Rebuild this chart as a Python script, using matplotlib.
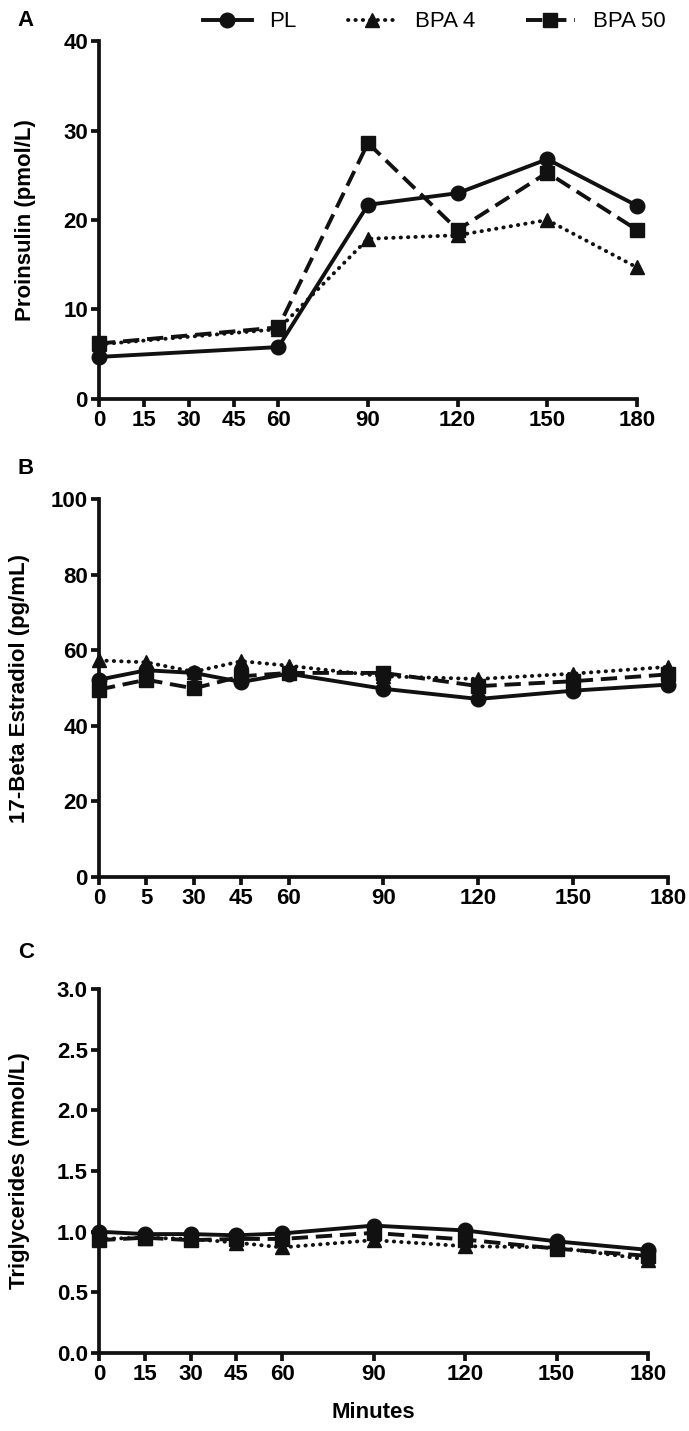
import matplotlib
matplotlib.use("Agg")
import matplotlib.pyplot as plt
from matplotlib.lines import Line2D

plt.rcParams['font.family'] = ['Liberation Sans', 'DejaVu Sans']

# panel A: proinsulin
t_a = [0, 60, 90, 120, 150, 180]
pro_pl = [4.7, 5.8, 21.7, 23.0, 26.8, 21.6]
pro_bpa4 = [6.1, 7.8, 17.9, 18.3, 20.0, 14.7]
pro_bpa50 = [6.2, 8.0, 28.6, 18.9, 25.3, 18.9]
ticks_a = [0, 15, 30, 45, 60, 90, 120, 150, 180]
ticklabels_a = ['0', '15', '30', '45', '60', '90', '120', '150', '180']

# panel B: estradiol
t_b = [0, 15, 30, 45, 60, 90, 120, 150, 180]
e2_pl = [52.2, 54.7, 54.0, 51.6, 53.8, 49.8, 47.1, 49.3, 50.9]
e2_bpa4 = [57.3, 56.8, 54.3, 57.1, 55.9, 53.1, 52.4, 53.8, 55.6]
e2_bpa50 = [49.6, 52.2, 49.9, 53.1, 54.0, 54.0, 50.5, 51.8, 53.6]
ticklabels_b = ['0', '5', '30', '45', '60', '90', '120', '150', '180']

# panel C: triglycerides
t_c = [0, 15, 30, 45, 60, 90, 120, 150, 180]
tg_pl = [1.00, 0.98, 0.98, 0.97, 0.985, 1.05, 1.01, 0.92, 0.85]
tg_bpa4 = [0.94, 0.95, 0.94, 0.91, 0.87, 0.93, 0.88, 0.87, 0.77]
tg_bpa50 = [0.93, 0.95, 0.93, 0.94, 0.94, 0.99, 0.935, 0.86, 0.80]
ticklabels_c = ['0', '15', '30', '45', '60', '90', '120', '150', '180']

LW = 2.8
INK = '#111111'
styles = {
    'PL': dict(color=INK, lw=LW, ls='-', marker='o', ms=10.5),
    'BPA 4': dict(color=INK, lw=LW, ls=(0, (0.1, 1.8)), marker='^', ms=10.5,
                  dash_capstyle='round'),
    'BPA 50': dict(color=INK, lw=LW, ls=(0, (4.2, 2.0)), marker='s', ms=9.5),
}


def style_axes(ax, ymax, yticks, yfmt, xticks, xlabels):
    for s in ['top', 'right']:
        ax.spines[s].set_visible(False)
    for s in ['left', 'bottom']:
        ax.spines[s].set_linewidth(2.7)
        ax.spines[s].set_color(INK)
    ax.set_xlim(0, 180)
    ax.set_ylim(0, ymax)
    ax.set_xticks(xticks)
    ax.set_xticklabels(xlabels)
    ax.set_yticks(yticks)
    ax.set_yticklabels([yfmt.format(v) for v in yticks])
    ax.tick_params(width=2.7, length=6, color=INK, labelsize=16, pad=2)
    for lab in ax.get_xticklabels() + ax.get_yticklabels():
        lab.set_fontweight('bold')


def draw_panel(ax, t, pl, b4, b50):
    ax.plot(t, pl, clip_on=False, zorder=5, **styles['PL'])
    ax.plot(t, b4, clip_on=False, zorder=4, **styles['BPA 4'])
    ax.plot(t, b50, clip_on=False, zorder=3, **styles['BPA 50'])


fig = plt.figure(figsize=(6.89, 14.31), dpi=100)

axA = fig.add_axes([0.1437, 0.7212, 0.9245 - 0.1437, 0.9713 - 0.7212])
axB = fig.add_axes([0.1437, 0.3871, 0.9695 - 0.1437, 0.6513 - 0.3871])
axC = fig.add_axes([0.1437, 0.0545, 0.9405 - 0.1437, 0.3089 - 0.0545])

draw_panel(axA, t_a, pro_pl, pro_bpa4, pro_bpa50)
style_axes(axA, 40, [0, 10, 20, 30, 40], '{:g}', ticks_a, ticklabels_a)
axA.set_ylabel('Proinsulin (pmol/L)', fontsize=16, fontweight='bold')
axA.yaxis.set_label_coords(-0.117, 0.5)

draw_panel(axB, t_b, e2_pl, e2_bpa4, e2_bpa50)
style_axes(axB, 100, [0, 20, 40, 60, 80, 100], '{:g}', t_b, ticklabels_b)
axB.set_ylabel('17-Beta Estradiol (pg/mL)', fontsize=16, fontweight='bold')
axB.yaxis.set_label_coords(-0.121, 0.5)

draw_panel(axC, t_c, tg_pl, tg_bpa4, tg_bpa50)
style_axes(axC, 3.0, [0, 0.5, 1.0, 1.5, 2.0, 2.5, 3.0], '{:.1f}', t_c, ticklabels_c)
axC.set_ylabel('Triglycerides (mmol/L)', fontsize=16, fontweight='bold')
axC.yaxis.set_label_coords(-0.126, 0.5)
axC.set_xlabel('Minutes', fontsize=16, fontweight='bold', labelpad=12)

for lab, y in [('A', 0.993), ('B', 0.680), ('C', 0.342)]:
    fig.text(0.026, y, lab, fontsize=16, fontweight='bold', va='top')

handles = [Line2D([], [], **styles[k]) for k in ['PL', 'BPA 4', 'BPA 50']]
fig.legend(handles, ['PL', 'BPA 4', 'BPA 50'], loc='upper center',
           bbox_to_anchor=(0.63, 1.006), ncol=3, frameon=False, fontsize=16,
           handlelength=2.2, columnspacing=2.3, handletextpad=0.8)

fig.savefig('out.png', dpi=100)
plt.close()
